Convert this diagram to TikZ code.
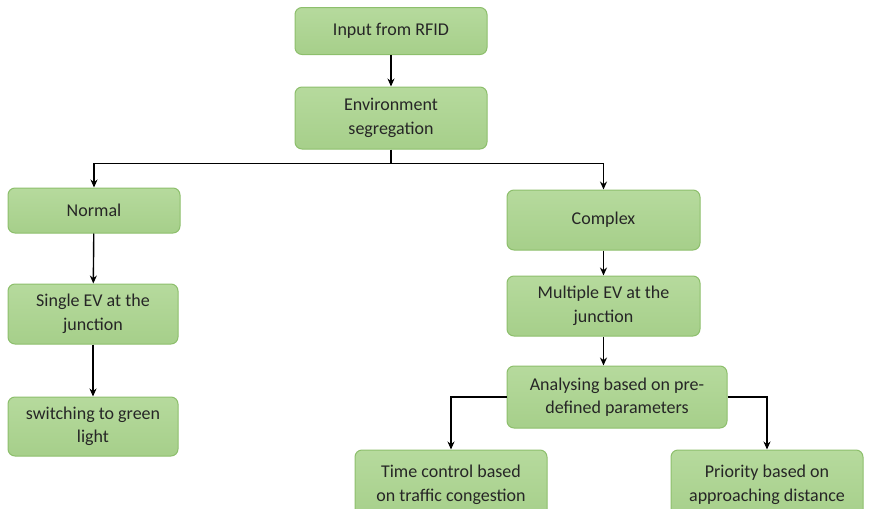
\documentclass[tikz,border=0pt]{standalone}
\usepackage{fontspec}
\setmainfont{Carlito}
\usetikzlibrary{arrows.meta, positioning, calc}

\definecolor{boxfill}{HTML}{A6CF8A}
\definecolor{boxtop}{HTML}{B6DA9D}
\definecolor{boxedge}{HTML}{8DBF6C}
\definecolor{boxtext}{HTML}{262626}

\begin{document}
\begin{tikzpicture}[>={Stealth[length=8pt, width=7pt]}, x=1pt, y=-1pt,
    box/.style={draw=boxedge, line width=1pt, rounded corners=7pt,
      top color=boxtop, bottom color=boxfill, text=boxtext,
      align=center, inner sep=2pt,
      font=\fontsize{18}{23.5}\selectfont},
    link/.style={->, line width=1.4pt, black}]
  \useasboundingbox (0,0) rectangle (871,509);

  % top of the tree
  \node[box, minimum width=192pt, minimum height=47pt] (rfid) at (391,31) {Input from RFID};
  \node[box, minimum width=192pt, minimum height=62pt] (env) at (391,118) {Environment\\segregation};

  % normal branch
  \node[box, minimum width=172pt, minimum height=45pt] (normal) at (94,210.5) {Normal};
  \node[box, minimum width=170pt, minimum height=60pt] (single) at (93,314) {Single EV at the\\junction};
  \node[box, minimum width=170pt, minimum height=59pt] (switch) at (93,426.5) {switching to green\\light};

  % complex branch
  \node[box, minimum width=193pt, minimum height=60pt] (complex) at (603.5,220) {Complex};
  \node[box, minimum width=193pt, minimum height=60pt] (multi) at (603.5,306) {Multiple EV at the\\junction};
  \node[box, minimum width=220pt, minimum height=62pt] (ana) at (617,397) {Analysing based on pre-\\defined parameters};
  \node[box, minimum width=192pt, minimum height=70pt] (time) at (451,485) {Time control based\\on traffic congestion};
  \node[box, minimum width=192pt, minimum height=70pt] (prio) at (767,485) {Priority based on\\approaching distance};

  % connectors
  \draw[link] (rfid) -- (env);
  \coordinate (split) at ($(env.south)+(0,14)$);
  \draw[line width=1.4pt] (env.south) -- (split);
  \draw[link] (split) -| (normal.north);
  \draw[link] (split) -| (complex.north);
  \draw[link] (normal) -- (single);
  \draw[link] (single) -- (switch);
  \draw[link] (complex) -- (multi);
  \draw[link] (multi.south) -- (multi.south |- ana.north);
  \draw[link] (ana.west) -| (time.north);
  \draw[link] (ana.east) -| (prio.north);
\end{tikzpicture}
\end{document}
